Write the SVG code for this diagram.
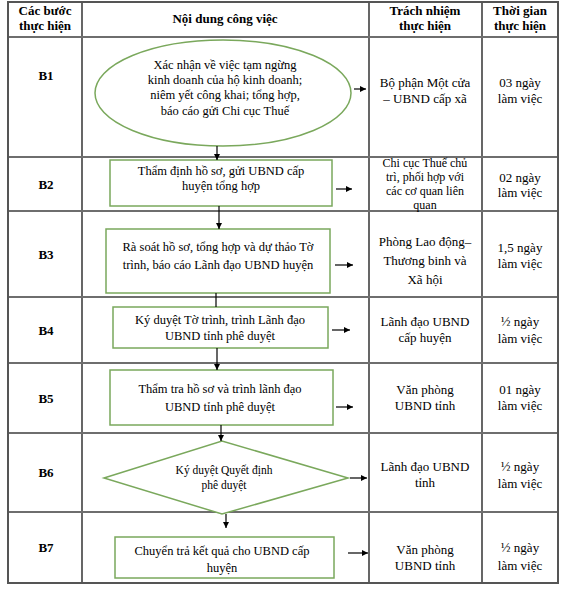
<svg xmlns="http://www.w3.org/2000/svg" width="567" height="590" viewBox="0 0 567 590">
<defs>
<marker id="ah" viewBox="0 0 10 10" refX="10" refY="5" markerWidth="6" markerHeight="6" markerUnits="userSpaceOnUse" orient="auto"><path d="M0,0 L10,5 L0,10 z" fill="#000"/></marker>
<style>
.t{font-family:"Liberation Serif","Times New Roman",serif;font-size:13px;fill:#000;text-anchor:middle}
.h{font-weight:bold}
.s{font-size:12.5px}
.xs{font-size:11.5px}
.q{font-size:12px}
.n{fill:#fff;stroke:#7aa85c;stroke-width:1.5}
.v{stroke:#000;stroke-width:1.2}
.r{stroke:#6e6e6e;stroke-width:2}
.c{stroke:#000;stroke-width:1.2;fill:none}
</style>
</defs>
<rect width="567" height="590" fill="#fff"/>
<g id="table">
<line class="v" x1="82" y1="2" x2="82" y2="583"/>
<line class="v" x1="369" y1="2" x2="369" y2="583"/>
<line class="v" x1="482" y1="2" x2="482" y2="583"/>
<line class="r" x1="8" y1="37" x2="558" y2="37"/>
<line class="r" x1="8" y1="157" x2="558" y2="157"/>
<line class="r" x1="8" y1="211" x2="558" y2="211"/>
<line class="r" x1="8" y1="297" x2="558" y2="297"/>
<line class="r" x1="8" y1="363" x2="558" y2="363"/>
<line class="r" x1="8" y1="433" x2="558" y2="433"/>
<line class="r" x1="8" y1="512" x2="558" y2="512"/>
<rect x="8" y="2" width="550" height="581" fill="none" stroke="#555" stroke-width="2"/>
<text class="t h" x="45" y="15">Các bước</text>
<text class="t h" x="45" y="30">thực hiện</text>
<text class="t h" x="225" y="23">Nội dung công việc</text>
<text class="t h" x="425" y="15">Trách nhiệm</text>
<text class="t h" x="425" y="30">thực hiện</text>
<text class="t h" x="520" y="15">Thời gian</text>
<text class="t h" x="520" y="30">thực hiện</text>
<text class="t h" x="46" y="80">B1</text>
<text class="t h" x="46" y="189">B2</text>
<text class="t h" x="46" y="259">B3</text>
<text class="t h" x="46" y="335">B4</text>
<text class="t h" x="46" y="403">B5</text>
<text class="t h" x="46" y="477">B6</text>
<text class="t h" x="46" y="552">B7</text>
<text class="t" x="425" y="87">Bộ phận Một cửa</text>
<text class="t" x="425" y="103">– UBND cấp xã</text>
<text class="t" x="520" y="87">03 ngày</text>
<text class="t" x="520" y="103">làm việc</text>
<text class="t q" x="425" y="167">Chi cục Thuế chủ</text>
<text class="t q" x="425" y="181">trì, phối hợp với</text>
<text class="t q" x="425" y="195">các cơ quan liên</text>
<text class="t q" x="425" y="209">quan</text>
<text class="t" x="520" y="182">02 ngày</text>
<text class="t" x="520" y="197">làm việc</text>
<text class="t" x="425" y="246">Phòng Lao động–</text>
<text class="t" x="425" y="265">Thương binh và</text>
<text class="t" x="425" y="284">Xã hội</text>
<text class="t" x="520" y="252">1,5 ngày</text>
<text class="t" x="520" y="268">làm việc</text>
<text class="t" x="425" y="326">Lãnh đạo UBND</text>
<text class="t" x="425" y="342">cấp huyện</text>
<text class="t" x="520" y="326">½ ngày</text>
<text class="t" x="520" y="343">làm việc</text>
<text class="t" x="425" y="394">Văn phòng</text>
<text class="t" x="425" y="410">UBND tỉnh</text>
<text class="t" x="520" y="394">01 ngày</text>
<text class="t" x="520" y="410">làm việc</text>
<text class="t" x="425" y="471">Lãnh đạo UBND</text>
<text class="t" x="425" y="487">tỉnh</text>
<text class="t" x="520" y="471">½ ngày</text>
<text class="t" x="520" y="488">làm việc</text>
<text class="t" x="425" y="554">Văn phòng</text>
<text class="t" x="425" y="570">UBND tỉnh</text>
<text class="t" x="520" y="552">½ ngày</text>
<text class="t" x="520" y="570">làm việc</text>
</g>
<g id="B1">
<ellipse class="n" cx="223" cy="93" rx="128" ry="53"/>
<text class="t s" x="225" y="69">Xác nhận về việc tạm ngừng</text>
<text class="t s" x="225" y="84">kinh doanh của hộ kinh doanh;</text>
<text class="t s" x="225" y="99">niêm yết công khai; tổng hợp,</text>
<text class="t s" x="225" y="115">báo cáo gửi Chi cục Thuế</text>
</g>
<g id="B2">
<rect class="n" x="110" y="160" width="222" height="46"/>
<text class="t s" x="221" y="175">Thẩm định hồ sơ, gửi UBND cấp</text>
<text class="t s" x="221" y="190">huyện tổng hợp</text>
</g>
<g id="B3">
<rect class="n" x="106" y="229" width="224" height="64"/>
<text class="t s" x="218" y="251">Rà soát hồ sơ, tổng hợp và dự thảo Tờ</text>
<text class="t s" x="218" y="269">trình, báo cáo Lãnh đạo UBND huyện</text>
</g>
<g id="B4">
<rect class="n" x="113" y="307" width="215" height="41"/>
<text class="t s" x="220" y="324">Ký duyệt Tờ trình, trình Lãnh đạo</text>
<text class="t s" x="220" y="340">UBND tỉnh phê duyệt</text>
</g>
<g id="B5">
<rect class="n" x="110" y="370" width="223" height="55"/>
<text class="t s" x="220" y="393">Thẩm tra hồ sơ và trình  lãnh đạo</text>
<text class="t s" x="220" y="411">UBND tỉnh phê duyệt</text>
</g>
<g id="B6">
<polygon class="n" points="104,478 222,441 348,478 222,514"/>
<text class="t xs" x="224" y="474">Ký duyệt Quyết định</text>
<text class="t xs" x="224" y="489">phê duyệt</text>
</g>
<g id="B7">
<rect class="n" x="115" y="537" width="219" height="41"/>
<text class="t s" x="222" y="555">Chuyển trả kết quả cho UBND cấp</text>
<text class="t s" x="222" y="572">huyện</text>
</g>
<g id="connectors">
<line class="c" x1="217" y1="146" x2="217" y2="160" marker-end="url(#ah)"/>
<line class="c" x1="219" y1="206" x2="219" y2="229" marker-end="url(#ah)"/>
<line class="c" x1="216" y1="293" x2="216" y2="307"/>
<line class="c" x1="217" y1="348" x2="217" y2="370" marker-end="url(#ah)"/>
<line class="c" x1="221" y1="425" x2="221" y2="441" marker-end="url(#ah)"/>
<line class="c" x1="226" y1="514" x2="226" y2="528" marker-end="url(#ah)"/>
<line class="c" x1="354" y1="89" x2="366" y2="89" marker-end="url(#ah)"/>
<line class="c" x1="336" y1="189" x2="352" y2="189" marker-end="url(#ah)"/>
<line class="c" x1="335" y1="265" x2="353" y2="265" marker-end="url(#ah)"/>
<line class="c" x1="332" y1="330" x2="350" y2="330" marker-end="url(#ah)"/>
<line class="c" x1="336" y1="407" x2="353" y2="407" marker-end="url(#ah)"/>
<line class="c" x1="350" y1="478" x2="367" y2="478" marker-end="url(#ah)"/>
<line class="c" x1="348" y1="553" x2="368" y2="553" marker-end="url(#ah)"/>
</g>
</svg>
